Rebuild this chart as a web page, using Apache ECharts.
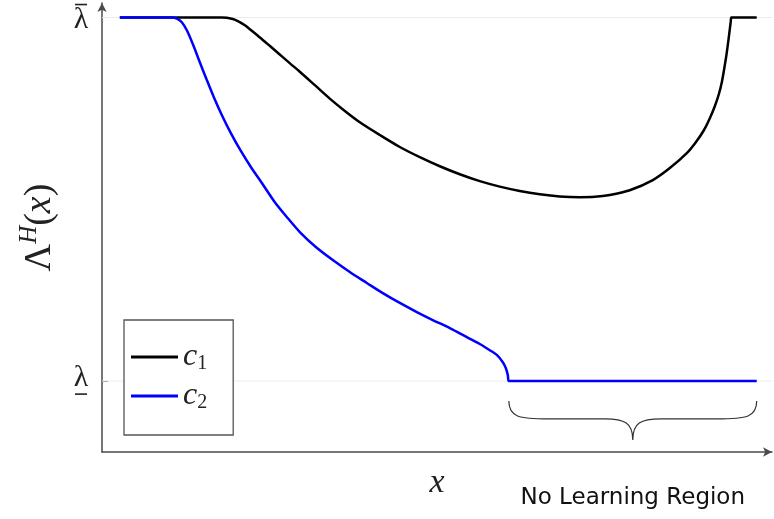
<!DOCTYPE html>
<html>
<head>
<meta charset="utf-8">
<script src="https://cdn.jsdelivr.net/npm/echarts@6/dist/echarts.min.js"></script>
<style>html,body{margin:0;padding:0;background:#fff}#chart{width:774px;height:519px}</style>
</head>
<body>
<div id="chart"></div>
<script>
// ---- data (x in arbitrary units 0..10, y normalised: 0 = lower bound, 1 = upper bound)
const c1X = [0, 1.601, 1.774, 1.868, 1.963, 2.041, 2.167, 2.308, 2.434, 2.559, 2.685, 2.826, 3.062, 3.297, 3.533, 3.768, 4.082, 4.396, 4.710, 5.024, 5.338, 5.652, 5.966, 6.280, 6.594, 6.908, 7.222, 7.458, 7.693, 8.007, 8.369, 8.636, 8.902, 9.044, 9.170, 9.264, 9.342, 9.405, 9.452, 9.499, 9.531, 9.562, 9.593, 9.601, 10.0];
const c1Y = [1, 1, 0.996, 0.989, 0.979, 0.968, 0.950, 0.929, 0.910, 0.891, 0.872, 0.851, 0.814, 0.777, 0.743, 0.712, 0.677, 0.644, 0.616, 0.591, 0.569, 0.550, 0.535, 0.523, 0.514, 0.508, 0.506, 0.507, 0.512, 0.525, 0.553, 0.586, 0.627, 0.657, 0.690, 0.723, 0.756, 0.789, 0.822, 0.869, 0.905, 0.946, 0.990, 1, 1];
const c2X = [0, 0.816, 0.895, 0.973, 1.052, 1.146, 1.256, 1.366, 1.476, 1.601, 1.743, 1.900, 2.057, 2.230, 2.434, 2.638, 2.826, 3.077, 3.344, 3.611, 3.878, 4.129, 4.396, 4.663, 4.914, 5.181, 5.448, 5.652, 5.809, 5.919, 6.013, 6.060, 6.092, 6.108, 10.0];
const c2Y = [1, 1, 0.997, 0.987, 0.965, 0.927, 0.877, 0.828, 0.781, 0.732, 0.682, 0.633, 0.589, 0.545, 0.492, 0.448, 0.410, 0.369, 0.333, 0.300, 0.270, 0.242, 0.215, 0.190, 0.168, 0.146, 0.121, 0.102, 0.085, 0.072, 0.052, 0.036, 0.017, 0, 0];
const seriesNames = ['c1', 'c2'];
const yTickValues = [0, 1];
const yTickLabels = ['{l|λ}\n{bar| }', '{bar| }\n{l|λ}'];
const noLearningSpan = [6.108, 10.0];
const annotationText = 'No Learning Region';

const zip = (xs, ys) => xs.map((x, i) => [x, ys[i]]);

// annotation placement (data units) for the brace and its label
const braceY = {top: -0.055, mid: -0.104, cusp: -0.162, text: -0.319};

const chart = echarts.init(document.getElementById('chart'), null, {renderer: 'canvas'});

const serif = 'Liberation Serif';

const option = {
  animation: false,
  backgroundColor: '#fff',
  grid: {left: 102, right: 2, top: 3, bottom: 67, containLabel: false},
  xAxis: {
    type: 'value', min: -0.28, max: 10.24,
    axisLine: {show: true, lineStyle: {color: '#4a4a4a', width: 1.5}, symbol: ['none', 'arrow'], symbolSize: [7, 9], onZero: false},
    axisTick: {show: false}, axisLabel: {show: false}, splitLine: {show: false},
    name: '{i|x}', nameLocation: 'middle', nameGap: 14,
    nameTextStyle: {rich: {i: {fontFamily: serif, fontStyle: 'italic', fontSize: 34, color: '#222'}}}
  },
  yAxis: {
    type: 'value', min: -0.195, max: 1.04,
    axisLine: {show: true, lineStyle: {color: '#4a4a4a', width: 1.5}, symbol: ['none', 'arrow'], symbolSize: [7, 9], onZero: false},
    axisTick: {show: true, inside: true, length: 6, customValues: yTickValues, lineStyle: {color: '#4a4a4a', width: 1}},
    axisLabel: {
      show: true, customValues: yTickValues, margin: 21, align: 'center',
      formatter: v => yTickLabels[yTickValues.indexOf(v)] || '',
      rich: {
        l: {fontFamily: serif, fontSize: 30, color: '#222', lineHeight: 26, align: 'center'},
        bar: {width: 12, height: 1.6, lineHeight: 6, fontSize: 2, backgroundColor: '#222', align: 'center'}
      }
    },
    splitLine: {show: false},
    name: '{a|Λ}{h|H}{a|(}{i|x}{a|)}', nameLocation: 'middle', nameGap: 39, nameRotate: 90,
    nameTextStyle: {
      rich: {
        a: {fontFamily: serif, fontSize: 38, color: '#222', lineHeight: 46},
        h: {fontFamily: serif, fontStyle: 'italic', fontSize: 25, color: '#222', verticalAlign: 'top', lineHeight: 24},
        i: {fontFamily: serif, fontStyle: 'italic', fontSize: 38, color: '#222', lineHeight: 46}
      }
    }
  },
  legend: {
    data: seriesNames,
    orient: 'vertical', left: 124, top: 320,
    padding: [21, 26, 22, 7], itemGap: 6,
    itemWidth: 47, itemHeight: 3, icon: 'rect',
    borderColor: '#555', borderWidth: 1.3, borderRadius: 0,
    backgroundColor: '#fff',
    formatter: n => '{c|c}{s|' + n.slice(1) + '}',
    textStyle: {
      rich: {
        c: {fontFamily: serif, fontStyle: 'italic', fontSize: 32, color: '#222', lineHeight: 34},
        s: {fontFamily: serif, fontSize: 20, color: '#222', verticalAlign: 'bottom', lineHeight: 20}
      }
    }
  },
  series: [
    {
      name: 'grid-upper', type: 'line', silent: true, z: 1, symbol: 'none',
      data: [[-0.28, yTickValues[1]], [10.24, yTickValues[1]]],
      lineStyle: {color: '#ececec', width: 1}
    },
    {
      name: 'grid-lower', type: 'line', silent: true, z: 1, symbol: 'none',
      data: [[-0.28, yTickValues[0]], [10.24, yTickValues[0]]],
      lineStyle: {color: '#ececec', width: 1}
    },
    {
      name: seriesNames[0], type: 'line', z: 3, symbol: 'none', showSymbol: false,
      smooth: 0.3,
      data: zip(c1X, c1Y), color: '#000',
      lineStyle: {color: '#000', width: 2.5}
    },
    {
      name: seriesNames[1], type: 'line', z: 4, symbol: 'none', showSymbol: false,
      smooth: 0.3,
      data: zip(c2X, c2Y), color: '#0000ff',
      lineStyle: {color: '#0000ff', width: 2.5}
    },
    {
      name: 'brace', type: 'custom', silent: true, clip: false, z: 2,
      data: [[noLearningSpan[0], noLearningSpan[1]]],
      encode: {x: [0, 1]},
      renderItem: (params, api) => {
        const L = api.coord([api.value(0), braceY.top]);
        const R = api.coord([api.value(1), braceY.top]);
        const midY = api.coord([api.value(0), braceY.mid])[1];
        const cuspY = api.coord([api.value(0), braceY.cusp])[1];
        const textY = api.coord([api.value(0), braceY.text])[1];
        const lx = L[0], rx = R[0], ty = L[1], mx = (lx + rx) / 2;
        const d = [
          'M', lx, ty,
          'C', lx, midY - 2, lx + 10, midY, lx + 40, midY,
          'L', mx - 28, midY,
          'C', mx - 8, midY, mx, midY + 4, mx, cuspY,
          'C', mx, midY + 4, mx + 8, midY, mx + 28, midY,
          'L', rx - 40, midY,
          'C', rx - 10, midY, rx, midY - 2, rx, ty
        ].join(' ');
        return {
          type: 'group',
          children: [
            {type: 'path', shape: {pathData: d}, style: {fill: 'none', stroke: '#333', lineWidth: 1.2}},
            {type: 'text', style: {text: annotationText, x: mx, y: textY + 1, align: 'center', verticalAlign: 'middle',
              font: '23px "DejaVu Sans"', fill: '#111'}}
          ]
        };
      }
    }
  ]
};
chart.setOption(option);
</script>
</body>
</html>
